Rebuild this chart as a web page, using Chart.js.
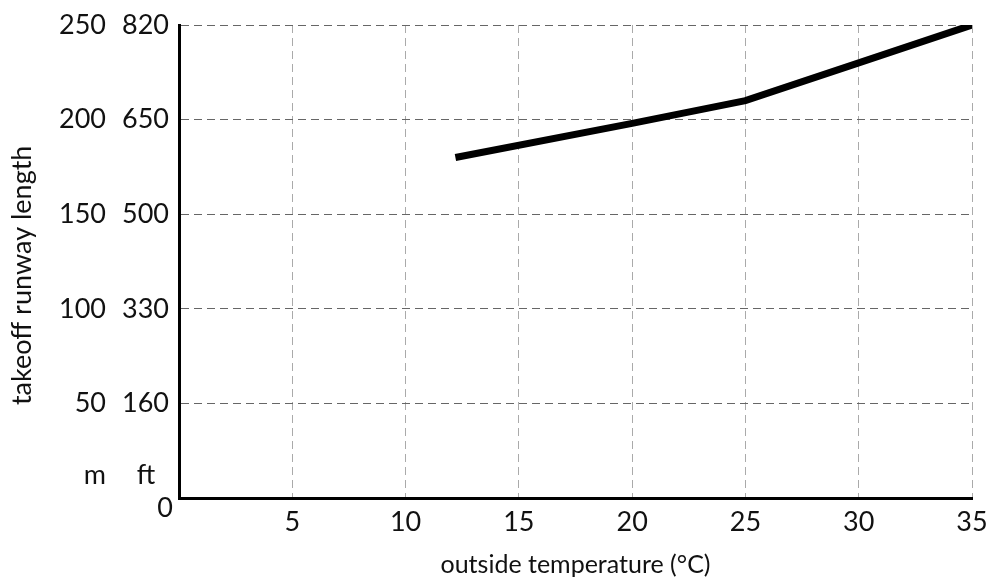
<!DOCTYPE html>
<html>
<head>
<meta charset="utf-8">
<script src="https://cdn.jsdelivr.net/npm/chart.js@4"></script>
<style>
  html, body { margin: 0; padding: 0; background: #fff; }
  #wrap { width: 991px; height: 581px; }
</style>
</head>
<body>
<div id="wrap"><canvas id="c" width="991" height="581"></canvas></div>
<script>
// ---- data ----
const temperatures = [12.2, 20, 25, 30, 35];          // °C
const runwayMeters = [180, 198, 210, 230, 250];       // m
const meterTicks = [0, 50, 100, 150, 200, 250];
const feetTickLabels = ['0', '160', '330', '500', '650', '820'];
const xTickValues = [0, 5, 10, 15, 20, 25, 30, 35];
const unitLabels = ['m', 'ft'];
const xTitle = 'outside temperature (°C)';
const yTitle = 'takeoff runway length';

const FONT = 'Lato, "Open Sans", sans-serif';

const points = temperatures.map((t, i) => ({ x: t, y: runwayMeters[i] }));

function noPad(s) {
  s.paddingTop = 0; s.paddingBottom = 0; s.paddingLeft = 0; s.paddingRight = 0;
}

const extraLabels = {
  id: 'extraLabels',
  afterDraw(chart) {
    const ctx = chart.ctx;
    const ym = chart.scales.ym;
    const yft = chart.scales.yft;
    const y0 = yft.getPixelForValue(0);
    ctx.save();
    ctx.fillStyle = '#111';
    ctx.font = '27px ' + FONT;
    ctx.textBaseline = 'alphabetic';
    ctx.textAlign = 'right';
    ctx.fillText(unitLabels[0], ym.right - 16, y0 - 14);
    ctx.textAlign = 'center';
    ctx.fillText(unitLabels[1], yft.left + 24, y0 - 14);
    ctx.textAlign = 'right';
    ctx.textBaseline = 'middle';
    ctx.fillText(feetTickLabels[0], yft.right - 6, y0 + 10);
    ctx.restore();
  }
};

new Chart(document.getElementById('c'), {
  type: 'line',
  data: {
    datasets: [{
      data: points,
      xAxisID: 'x',
      yAxisID: 'yft',
      borderColor: '#000',
      borderWidth: 7,
      pointRadius: 0,
      tension: 0,
      fill: false,
      borderCapStyle: 'butt'
    }]
  },
  options: {
    responsive: false,
    animation: false,
    events: [],
    layout: { padding: { top: 25, right: 19, left: 0, bottom: 0 } },
    plugins: { legend: { display: false }, tooltip: { enabled: false } },
    scales: {
      x: {
        type: 'linear',
        min: 0, max: 35,
        afterBuildTicks: (s) => { s.ticks = xTickValues.map(v => ({ value: v })); },
        afterFit: (s) => { s.height = 83; noPad(s); },
        ticks: {
          color: '#111',
          font: { family: FONT, size: 27 },
          padding: 8,
          maxRotation: 0,
          autoSkip: false,
          callback: (v) => (v === 0 ? '' : String(v))
        },
        grid: {
          color: (c) => (c.tick && c.tick.value === 0 ? 'rgba(0,0,0,0)' : '#aaaaaa'),
          lineWidth: 1,
          drawTicks: false
        },
        border: { display: true, color: '#000', width: 3, dash: [8, 5] },
        title: {
          display: true, text: xTitle, color: '#111',
          font: { family: FONT, size: 25 },
          padding: { top: 0, bottom: 1 }
        }
      },
      yft: {
        type: 'linear',
        position: 'left',
        weight: 0,
        min: 0, max: 250,
        afterBuildTicks: (s) => { s.ticks = meterTicks.map(v => ({ value: v })); },
        afterFit: (s) => { s.width = 57; noPad(s); },
        ticks: {
          color: '#111',
          font: { family: FONT, size: 27 },
          crossAlign: 'far',
          padding: 8,
          autoSkip: false,
          callback: (v) => (v === 0 ? '' : feetTickLabels[meterTicks.indexOf(v)])
        },
        grid: {
          color: (c) => (c.tick && c.tick.value === 0 ? 'rgba(0,0,0,0)' : '#666666'),
          lineWidth: 1,
          drawTicks: false
        },
        border: { display: true, color: '#000', width: 3, dash: [8, 5] }
      },
      ym: {
        type: 'linear',
        position: 'left',
        weight: 1,
        min: 0, max: 250,
        afterBuildTicks: (s) => { s.ticks = meterTicks.map(v => ({ value: v })); },
        afterFit: (s) => { s.width = 122; noPad(s); },
        ticks: {
          color: '#111',
          font: { family: FONT, size: 27 },
          padding: 16,
          autoSkip: false,
          callback: (v) => (v === 0 ? '' : String(v))
        },
        grid: { display: false, drawTicks: false },
        border: { display: false },
        title: {
          display: true, text: yTitle + '    ', color: '#111',
          font: { family: FONT, size: 27 },
          padding: { top: 6, bottom: 0 }
        }
      }
    }
  },
  plugins: [extraLabels]
});
</script>
</body>
</html>
